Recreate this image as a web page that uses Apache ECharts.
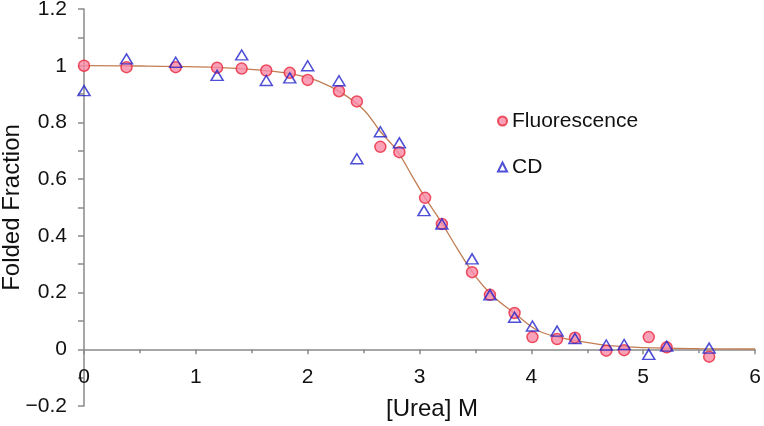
<!DOCTYPE html>
<html lang="en">
<head>
    <meta charset="UTF-8">
    <title>Folded Fraction</title>
    <style type="text/css">
        body {
            margin: 0;
            background: #fff;
        }

        #chart {
            width: 764px;
            height: 426px;
        }
    </style>
    <script type="text/javascript" src="https://cdn.jsdelivr.net/npm/echarts@6/dist/echarts.min.js"></script>
</head>
<body>
    <div id="chart"></div>
<script type="text/javascript">
    // fluorescence points
    var fluorX = [0, 0.38, 0.82, 1.19, 1.41, 1.63, 1.84, 2.0, 2.28, 2.44, 2.65, 2.82, 3.05, 3.2, 3.47, 3.63, 3.85, 4.01, 4.23, 4.39, 4.67, 4.83, 5.05, 5.21, 5.59];
    var fluorY = [1.0, 0.995, 0.995, 0.993, 0.99, 0.983, 0.975, 0.95, 0.91, 0.874, 0.714, 0.695, 0.534, 0.442, 0.272, 0.192, 0.128, 0.043, 0.036, 0.041, -0.005, -0.003, 0.043, 0.007, -0.026];

    // CD points
    var cdX = [0, 0.38, 0.82, 1.19, 1.41, 1.63, 1.84, 2.0, 2.28, 2.44, 2.65, 2.82, 3.04, 3.2, 3.47, 3.63, 3.85, 4.01, 4.23, 4.39, 4.67, 4.83, 5.05, 5.21, 5.59];
    var cdY = [0.912, 1.024, 1.012, 0.966, 1.038, 0.948, 0.957, 1.0, 0.947, 0.672, 0.767, 0.728, 0.489, 0.442, 0.319, 0.192, 0.113, 0.082, 0.064, 0.038, 0.015, 0.017, -0.018, 0.011, 0.004];

    // fitted curve
    var fitX = [0, 0.5, 1.0, 1.4, 1.7, 1.9, 2.1, 2.3, 2.5, 2.65, 2.8, 2.95, 3.05, 3.2, 3.35, 3.5, 3.65, 3.85, 4.05, 4.25, 4.45, 4.7, 5.0, 5.5, 6.0];
    var fitY = [1.0, 0.999, 0.996, 0.99, 0.98, 0.968, 0.945, 0.905, 0.845, 0.768, 0.7, 0.6, 0.535, 0.445, 0.347, 0.257, 0.19, 0.127, 0.068, 0.042, 0.027, 0.013, 0.006, 0.002, 0.001];

    function pairs(xs, ys){
        var out = [];
        for(var i = 0;i < xs.length;i++){
            out.push([xs[i], ys[i]]);
        }
        return out;
    }

    var font = '"Liberation Sans", Arial, sans-serif';
    var axisGray = '#8a8a8a';

    var chart = echarts.init(document.getElementById('chart'));
    var option = {
        animation: false,
        backgroundColor: '#fff',
        textStyle: {
            fontFamily: font
        },
        grid: {
            left: 84,
            right: 9,
            top: 9,
            bottom: 20,
            containLabel: false,
            outerBoundsMode: 'none'
        },
        legend: {
            orient: 'vertical',
            left: 492,
            top: 104,
            itemGap: 22,
            itemWidth: 9,
            itemHeight: 9,
            data: ['Fluorescence', 'CD'],
            textStyle: {
                fontFamily: font,
                fontSize: 21,
                lineHeight: 24,
                color: '#111'
            }
        },
        xAxis: {
            type: 'value',
            min: 0,
            max: 6,
            interval: 1,
            name: '[Urea] M',
            nameLocation: 'middle',
            nameGap: -9,
            nameTextStyle: {
                fontFamily: font,
                fontSize: 24,
                color: '#111',
                padding: [0, 0, 0, 25]
            },
            axisLine: {
                onZero: true,
                lineStyle: { color: axisGray, width: 1.5 }
            },
            axisTick: {
                length: 5,
                lineStyle: { color: axisGray, width: 1.5 }
            },
            minorTick: {
                show: true,
                splitNumber: 2,
                length: 4,
                lineStyle: { color: axisGray, width: 1.5 }
            },
            axisLabel: {
                margin: -39,
                fontFamily: font,
                fontSize: 21,
                color: '#111'
            },
            splitLine: { show: false }
        },
        yAxis: {
            type: 'value',
            min: -0.2,
            max: 1.2,
            interval: 0.2,
            name: 'Folded Fraction',
            nameLocation: 'middle',
            nameGap: 60,
            nameMoveOverlap: false,
            nameTextStyle: {
                fontFamily: font,
                fontSize: 24,
                color: '#111'
            },
            axisLine: {
                show: true,
                lineStyle: { color: axisGray, width: 1.5 }
            },
            axisTick: {
                show: true,
                length: 6,
                lineStyle: { color: axisGray, width: 1.5 }
            },
            minorTick: {
                show: true,
                splitNumber: 2,
                length: 6,
                lineStyle: { color: axisGray, width: 1.5 }
            },
            axisLabel: {
                margin: 17,
                fontFamily: font,
                fontSize: 21,
                color: '#111',
                formatter: function (v){
                    var r = Math.round(v * 10) / 10;
                    return String(r).replace('-', '\u2212');
                }
            },
            splitLine: { show: false }
        },
        series: [{
            name: 'fit',
            type: 'line',
            data: pairs(fitX, fitY),
            smooth: 0.4,
            showSymbol: false,
            symbol: 'none',
            lineStyle: { color: '#c27d52', width: 1.3 },
            z: 1
        },{
            name: 'Fluorescence',
            type: 'scatter',
            data: pairs(fluorX, fluorY),
            symbol: 'circle',
            symbolSize: 11,
            itemStyle: {
                color: '#f98aa6',
                borderColor: '#e8283c',
                borderWidth: 1.5
            },
            z: 2
        },{
            name: 'CD',
            type: 'scatter',
            data: pairs(cdX, cdY),
            symbol: 'triangle',
            symbolSize: [12, 10],
            itemStyle: {
                color: 'rgba(255,255,255,0)',
                borderColor: '#2222cc',
                borderWidth: 1.5
            },
            z: 3
        }]
    };
    chart.setOption(option);
</script>
</body>
</html>
